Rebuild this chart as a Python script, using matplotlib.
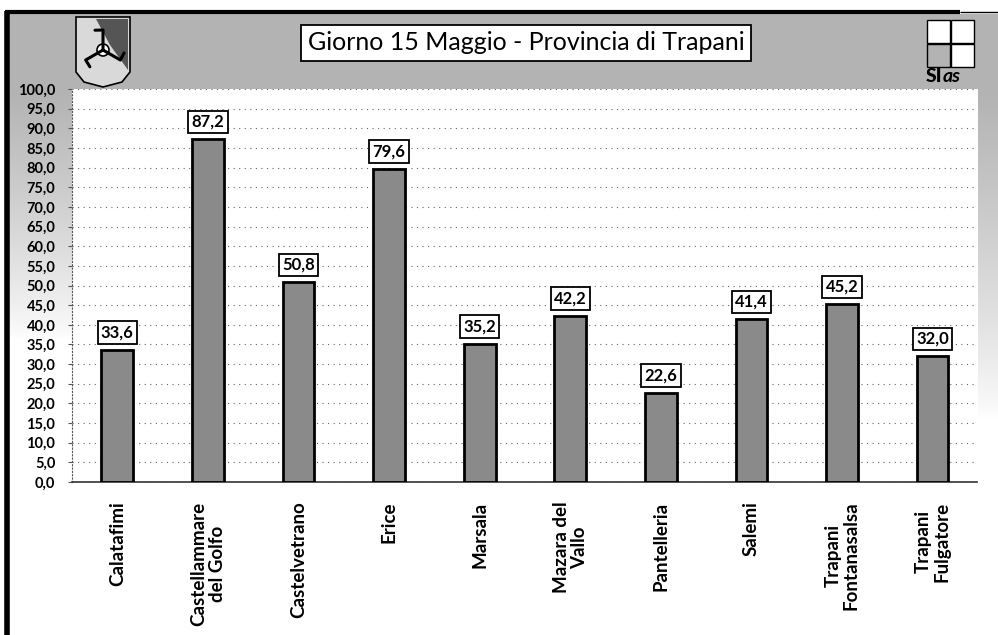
import numpy as np
import matplotlib
matplotlib.use("Agg")
import matplotlib.pyplot as plt
from matplotlib.patches import Rectangle, Polygon

plt.rcParams['font.family'] = ['Lato', 'DejaVu Sans']

# stazioni e valori (mm)
stazioni = ["Calatafimi", "Castellammare\ndel Golfo", "Castelvetrano", "Erice",
            "Marsala", "Mazara del\nVallo", "Pantelleria", "Salemi",
            "Trapani\nFontanasalsa", "Trapani\nFulgatore"]
valori = [33.6, 87.2, 50.8, 79.6, 35.2, 42.2, 22.6, 41.4, 45.2, 32.0]
y_ticks = np.arange(0, 105, 5)
titolo = "Giorno 15 Maggio - Provincia di Trapani"

GRIGIO_SFONDO = "#b3b3b3"
GRIGIO_BARRE = "#8a8a8a"


def virgola(v):
    return f"{v:.1f}".replace(".", ",")


def disegna_sfondo(fig):
    bg = fig.add_axes([0, 0, 1, 1], zorder=0)
    bg.set_xlim(0, 998)
    bg.set_ylim(635, 0)
    bg.axis("off")

    # fascia grigia in alto e bande laterali sfumate
    bg.add_patch(Rectangle((9, 14), 990, 76, color=GRIGIO_SFONDO, lw=0))
    sx = np.linspace(1, 0, 200).reshape(-1, 1) ** 0.8
    cmap = matplotlib.colors.LinearSegmentedColormap.from_list(
        "sf", ["white", GRIGIO_SFONDO])
    bg.imshow(sx, extent=(9, 72, 340, 90), cmap=cmap, vmin=0, vmax=1,
              aspect="auto", interpolation="bilinear")
    bg.imshow(sx, extent=(978, 998, 420, 90), cmap=cmap, vmin=0, vmax=1,
              aspect="auto", interpolation="bilinear")

    # cornice nera
    bg.plot([5, 960], [12, 12], color="black", lw=3, solid_capstyle="butt")
    bg.plot([960, 998], [12, 12], color="black", lw=1, solid_capstyle="butt")
    bg.plot([7, 7], [11, 635], color="black", lw=4, solid_capstyle="butt")

    # stemma della Regione
    scudo = [(76, 17), (130, 17), (130, 72), (122, 82), (103, 87),
             (84, 82), (76, 72)]
    bg.add_patch(Polygon(scudo, closed=True, fc="#d9d9d9", ec="black", lw=1.2))
    bg.add_patch(Polygon([(96, 19), (128, 19), (128, 70), (110, 45)],
                         closed=True, fc="#555555", ec="none"))
    cx, cy = 103, 50
    for ang in (90, 210, 330):
        a = np.radians(ang)
        xs = [cx, cx + 20 * np.cos(a), cx + 20 * np.cos(a) + 8 * np.cos(a + 1.6)]
        ys = [cy, cy - 20 * np.sin(a), cy - 20 * np.sin(a) - 8 * np.sin(a + 1.6)]
        bg.plot(xs, ys, color="black", lw=2.2, solid_capstyle="round")
    bg.add_patch(plt.Circle((cx, cy), 6, fc="white", ec="black", lw=1.2))

    # logo SIAS
    for (x0, y0, fc) in [(927, 20, "white"), (951, 20, "white"),
                         (927, 44, GRIGIO_SFONDO), (951, 44, "white")]:
        bg.add_patch(Rectangle((x0, y0), 23, 23, fc=fc, ec="black", lw=1))
    bg.text(926, 77, "SI", fontsize=14, fontweight="black", color="black",
            ha="left", va="center")
    bg.text(943, 77, "as", fontsize=14, fontweight="bold", fontstyle="italic",
            color="black", ha="left", va="center")

    # titolo
    bg.text(526, 43, titolo, fontsize=18, color="black", ha="center",
            va="center",
            bbox=dict(boxstyle="square,pad=0.25", fc="white", ec="black", lw=1.3))


def main():
    fig = plt.figure(figsize=(9.98, 6.35), dpi=100, facecolor="white")
    disegna_sfondo(fig)

    ax = fig.add_axes([0.0721, 0.2409, 0.9078, 0.6189], zorder=1)
    ax.set_facecolor("white")
    x = np.arange(len(stazioni))
    ax.bar(x, valori, width=0.35, color=GRIGIO_BARRE, edgecolor="black",
           linewidth=2, zorder=3)

    for xi, v in zip(x, valori):
        ax.text(xi, v + 2.4, virgola(v), ha="center", va="bottom",
                fontsize=12, fontweight="bold", zorder=4,
                bbox=dict(boxstyle="square,pad=0.2", fc="white", ec="black", lw=1.3))

    ax.set_xlim(-0.5, len(stazioni) - 0.5)
    ax.set_ylim(0, 100)
    ax.set_yticks(y_ticks)
    ax.set_yticklabels([virgola(v) for v in y_ticks], fontsize=10.5,
                       fontweight="bold")
    ax.set_xticks(x)
    ax.set_xticklabels(stazioni, rotation=90, fontsize=13.5, fontweight="bold",
                       multialignment="center", linespacing=1.1)
    ax.tick_params(axis="y", length=3, pad=9, color="#555555")
    ax.tick_params(axis="x", length=0, pad=14)

    ax.yaxis.grid(True, color="#666666", linestyle=(0, (1, 4)), lw=0.8)
    ax.set_axisbelow(True)
    for s in ("top", "right"):
        ax.spines[s].set_visible(False)
    ax.spines["left"].set_color("#555555")
    ax.spines["left"].set_linestyle((0, (1, 2)))
    ax.spines["bottom"].set_color("#333333")
    ax.spines["bottom"].set_linestyle((0, (3, 1)))
    ax.spines["bottom"].set_linewidth(1.2)

    fig.savefig("out.png", dpi=100, facecolor="white")


if __name__ == "__main__":
    main()
